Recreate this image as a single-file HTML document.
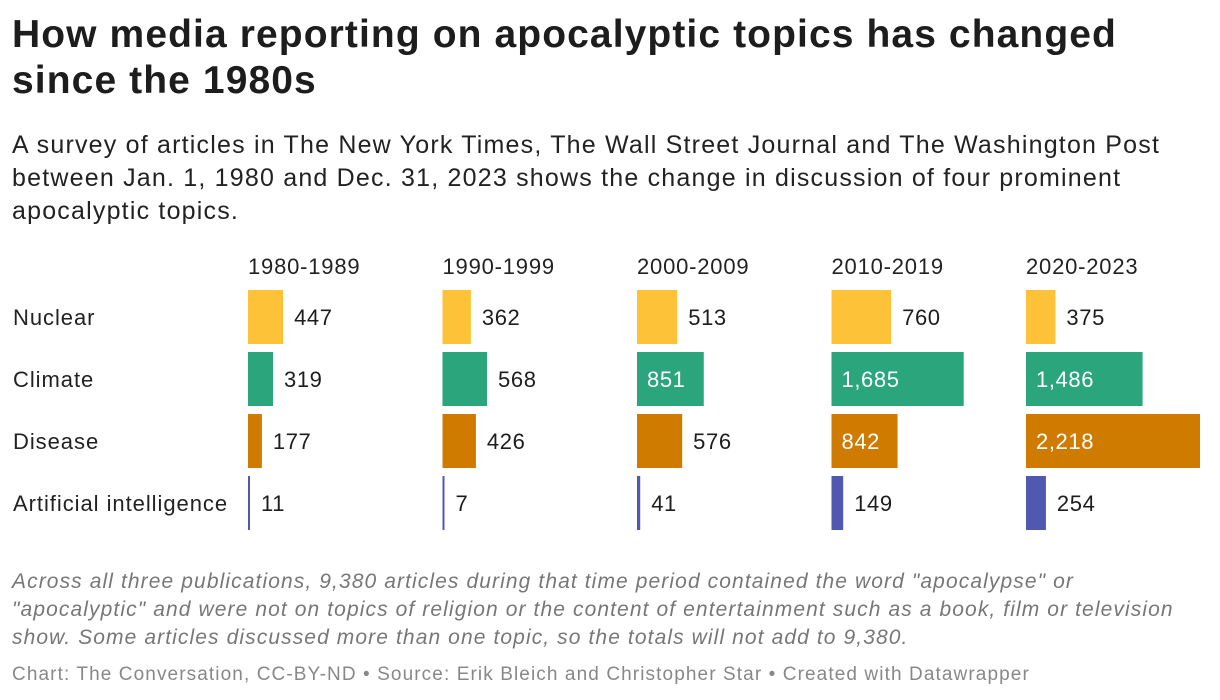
<!DOCTYPE html>
<html><head><meta charset="utf-8">
<style>
body{margin:0;width:1220px;height:700px;background:#fff;font-family:"Liberation Sans",sans-serif;color:#1d1d1d;overflow:hidden;position:relative}
#title{position:absolute;left:12px;top:12px;font-size:39px;font-weight:bold;line-height:46px;width:1210px;letter-spacing:1.1px;white-space:nowrap}
#desc{position:absolute;left:12px;top:129px;font-size:25px;line-height:33px;width:1210px;color:#222;letter-spacing:1.2px;white-space:nowrap}
#note{position:absolute;left:12px;top:568px;font-size:21px;line-height:28px;font-style:italic;color:#777;width:1210px;letter-spacing:1.1px;white-space:nowrap}
#credit{position:absolute;left:12px;top:664px;font-size:19px;color:#888;letter-spacing:1.1px;white-space:nowrap}
svg{position:absolute;left:0;top:0}
</style></head><body>
<div id="title">How media reporting on apocalyptic topics has changed<br>since the 1980s</div>
<div id="desc">A survey of articles in The New York Times, The Wall Street Journal and The Washington Post<br>between Jan. 1, 1980 and Dec. 31, 2023 shows the change in discussion of four prominent<br>apocalyptic topics.</div>
<svg id="chart" width="1220" height="700"></svg>
<div id="note">Across all three publications, 9,380 articles during that time period contained the word "apocalypse" or<br>"apocalyptic" and were not on topics of religion or the content of entertainment such as a book, film or television<br>show. Some articles discussed more than one topic, so the totals will not add to 9,380.</div>
<div id="credit">Chart: The Conversation, CC-BY-ND • Source: Erik Bleich and Christopher Star • Created with Datawrapper</div>
<script>
const periods=["1980-1989","1990-1999","2000-2009","2010-2019","2020-2023"];
const topics=["Nuclear","Climate","Disease","Artificial intelligence"];
const nuclear=[447,362,513,760,375];
const climate=[319,568,851,1685,1486];
const disease=[177,426,576,842,2218];
const ai=[11,7,41,149,254];
const colors=["#fdc237","#2aa57c","#cf7b00","#5058b0"];
const series=[nuclear,climate,disease,ai];
const svg=document.getElementById('chart');
const NS="http://www.w3.org/2000/svg";
const maxV=Math.max(...series.flat());
const colX=i=>248+i*194.5;
const w=v=>v/maxV*174;
const rowY=j=>290+j*62;
function mk(t,a){const e=document.createElementNS(NS,t);for(const k in a)e.setAttribute(k,a[k]);svg.appendChild(e);return e;}
periods.forEach((p,i)=>{const t=mk('text',{x:colX(i),y:274,'font-size':22,fill:'#222','letter-spacing':0.8});t.textContent=p;

});
topics.forEach((tp,j)=>{const t=mk('text',{x:13,y:rowY(j)+35,'font-size':22,fill:'#222','letter-spacing':0.95});t.textContent=tp;

});
series.forEach((s,j)=>{s.forEach((v,i)=>{
const bw=Math.max(w(v),2);
const r=mk('rect',{x:colX(i),y:rowY(j),width:bw,height:54,fill:colors[j]});


const inside=v>800;
const t=mk('text',{x:inside?colX(i)+10:colX(i)+bw+11,y:rowY(j)+35,'font-size':22,fill:inside?'#fff':'#1d1d1d','letter-spacing':0.6});
t.textContent=v.toLocaleString('en-US');


});});
</script>
</body></html>
